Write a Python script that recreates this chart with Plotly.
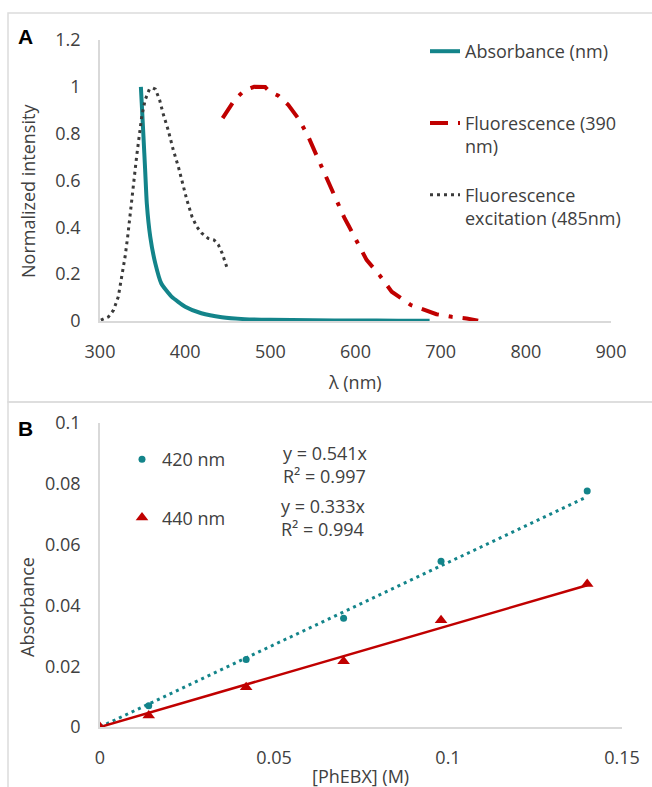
import plotly.graph_objects as go

# ---------------- Panel A data ----------------
abs_wl = [348, 349, 351, 353, 355, 359, 365, 372, 384, 400, 419, 443, 470, 500, 550, 600, 650, 687]
abs_int = [1.0, 0.93, 0.79, 0.645, 0.50, 0.36, 0.245, 0.16, 0.104, 0.061, 0.033, 0.016, 0.008,
           0.005, 0.003, 0.002, 0.0015, 0.001]

flu_wl = [444, 451, 458.5, 469.5, 481, 494, 499, 509.5, 521, 534, 544.5, 554.5, 566, 577, 587,
          591.5, 600, 613, 628, 642.5, 665, 685.5, 695, 713, 730.5, 744]
flu_int = [0.866, 0.902, 0.947, 0.984, 1.0, 0.999, 0.98, 0.962, 0.923, 0.859, 0.788, 0.705, 0.61,
           0.524, 0.44, 0.41, 0.349, 0.261, 0.197, 0.125, 0.068, 0.04, 0.029, 0.018, 0.011, 0.001]

exc_wl = [301, 310, 316, 321.5, 325.5, 329.5, 332.5, 335, 338, 340.5, 343, 346, 349, 353, 358, 362,
          365, 370, 374, 380, 386, 392, 397, 402, 408, 413.5, 419.5, 427, 434, 439, 443.5, 447, 450]
exc_int = [0.004, 0.018, 0.047, 0.104, 0.19, 0.275, 0.36, 0.446, 0.531, 0.617, 0.702, 0.788, 0.873,
           0.944, 0.99, 0.995, 0.99, 0.944, 0.887, 0.816, 0.731, 0.659, 0.588, 0.517, 0.446, 0.403,
           0.375, 0.353, 0.346, 0.325, 0.289, 0.253, 0.218]

a_xticks = [300, 400, 500, 600, 700, 800, 900]
a_yticks = [0, 0.2, 0.4, 0.6, 0.8, 1, 1.2]
a_yticklabels = ["0", "0.2", "0.4", "0.6", "0.8", "1", "1.2"]

# ---------------- Panel B data ----------------
conc = [0, 0.014, 0.042, 0.070, 0.098, 0.140]
abs420 = [0, 0.0070, 0.0222, 0.0358, 0.0545, 0.0776]
abs440 = [0, 0.0038, 0.0131, 0.0216, 0.0351, 0.0470]
slope420, r2_420 = 0.541, 0.997
slope440, r2_440 = 0.333, 0.994

b_xticks = [0, 0.05, 0.1, 0.15]
b_xticklabels = ["0", "0.05", "0.1", "0.15"]
b_yticks = [0, 0.02, 0.04, 0.06, 0.08, 0.1]
b_yticklabels = ["0", "0.02", "0.04", "0.06", "0.08", "0.1"]

# ---------------- styling ----------------
W, H = 652, 787
TEAL = "#13848a"
RED = "#c00000"
DARK = "#3a3a3a"
TXT = "#404040"
AXC = "#d9d9d9"
FONT = "Open Sans"


def px_x(p):
    return p / W


def px_y(p):
    return (H - p) / H


fig = go.Figure()

# Panel A
fig.add_trace(go.Scatter(x=abs_wl, y=abs_int, mode="lines", name="Absorbance (nm)<br>\u00a0",
                         line=dict(color=TEAL, width=4, shape="spline", smoothing=0.5),
                         xaxis="x", yaxis="y", legend="legend", legendgroup="a1"))
fig.add_trace(go.Scatter(x=flu_wl, y=flu_int, mode="lines", name="Fluorescence (390<br>nm)",
                         line=dict(color=RED, width=4, dash="18px,10px,4px,10px"),
                         xaxis="x", yaxis="y", legend="legend", legendgroup="a2"))
fig.add_trace(go.Scatter(x=exc_wl, y=exc_int, mode="lines", name="Fluorescence<br>excitation (485nm)",
                         line=dict(color=DARK, width=3, dash="3px,4px"),
                         xaxis="x", yaxis="y", legend="legend", legendgroup="a3"))

# Panel B trendlines
xfit = [0, max(conc)]
fig.add_trace(go.Scatter(x=xfit, y=[slope420 * v for v in xfit], mode="lines", showlegend=False,
                         line=dict(color=TEAL, width=3, dash="3px,4px"), xaxis="x2", yaxis="y2"))
fig.add_trace(go.Scatter(x=xfit, y=[slope440 * v for v in xfit], mode="lines", showlegend=False,
                         line=dict(color=RED, width=2.5), xaxis="x2", yaxis="y2"))
fig.add_trace(go.Scatter(x=conc, y=abs420, mode="markers", name="420 nm",
                         marker=dict(color=TEAL, size=7, symbol="circle"),
                         xaxis="x2", yaxis="y2", legend="legend2", legendgroup="b1"))
fig.add_trace(go.Scatter(x=conc, y=abs440, mode="markers", name="440 nm",
                         marker=dict(color=RED, size=11, symbol="triangle-up"),
                         xaxis="x2", yaxis="y2", legend="legend2", legendgroup="b2"))

axis_common = dict(showgrid=False, zeroline=False, showline=True, linecolor=AXC, linewidth=1.5,
                   ticks="", tickfont=dict(family=FONT, size=18, color=TXT), automargin=False)

fig.update_layout(
    width=W, height=H,
    margin=dict(l=0, r=0, t=0, b=0),
    paper_bgcolor="white", plot_bgcolor="white",
    font=dict(family=FONT, size=18, color=TXT),
    xaxis=dict(domain=[px_x(100), px_x(611)], range=[300, 900], anchor="y",
               tickvals=a_xticks, ticklabelstandoff=14, **axis_common),
    yaxis=dict(domain=[px_y(321), px_y(40)], range=[0, 1.2], anchor="x",
               tickvals=a_yticks, ticktext=a_yticklabels, ticklabelstandoff=14, **axis_common),
    xaxis2=dict(domain=[px_x(100), px_x(622)], range=[0, 0.15], anchor="y2",
                tickvals=b_xticks, ticktext=b_xticklabels, ticklabelstandoff=14, **axis_common),
    yaxis2=dict(domain=[px_y(727), px_y(423)], range=[0, 0.1], anchor="x2",
                tickvals=b_yticks, ticktext=b_yticklabels, ticklabelstandoff=14, **axis_common),
    legend=dict(x=px_x(425), y=px_y(33), xanchor="left", yanchor="top", valign="top",
                tracegroupgap=22, bgcolor="rgba(0,0,0,0)",
                font=dict(family=FONT, size=18, color=TXT)),
    legend2=dict(x=px_x(122), y=px_y(441), xanchor="left", yanchor="top",
                 tracegroupgap=32, bgcolor="rgba(0,0,0,0)",
                 font=dict(family=FONT, size=18, color=TXT)),
    showlegend=True,
)

annotations = [
    dict(text="<b>A</b>", x=px_x(25), y=px_y(37), font=dict(family="Liberation Sans", size=21, color="black")),
    dict(text="<b>B</b>", x=px_x(25), y=px_y(429), font=dict(family="Liberation Sans", size=21, color="black")),
    dict(text="Normalized intensity", x=px_x(28), y=px_y(191), textangle=-90),
    dict(text="λ (nm)", x=px_x(355), y=px_y(382)),
    dict(text="Absorbance", x=px_x(27), y=px_y(607), textangle=-90),
    dict(text="[PhEBX] (M)", x=px_x(360), y=px_y(776)),
    dict(text=f"y = {slope420}x<br>R² = {r2_420}", x=px_x(281), y=px_y(439), xanchor="left", yanchor="top", align="left"),
    dict(text=f"y = {slope440}x<br>R² = {r2_440}", x=px_x(279), y=px_y(492), xanchor="left", yanchor="top", align="left"),
]
for a in annotations:
    a.setdefault("xanchor", "center")
    a.setdefault("yanchor", "middle")
    a.update(xref="paper", yref="paper", showarrow=False)
    if "font" not in a:
        a["font"] = dict(family=FONT, size=18, color=TXT)
fig.update_layout(annotations=annotations)

# panel frames
fig.update_layout(shapes=[
    dict(type="rect", xref="paper", yref="paper", x0=px_x(8), x1=px_x(700), y0=px_y(402), y1=px_y(13),
         line=dict(color="#dcdcdc", width=1.5), layer="below"),
    dict(type="rect", xref="paper", yref="paper", x0=px_x(8), x1=px_x(700), y0=px_y(830), y1=px_y(402),
         line=dict(color="#dcdcdc", width=1.5), layer="below"),
])

fig.write_html("out.html", config={"displayModeBar": False},
               post_script="document.body.style.margin='0';document.body.style.overflow='hidden';")
